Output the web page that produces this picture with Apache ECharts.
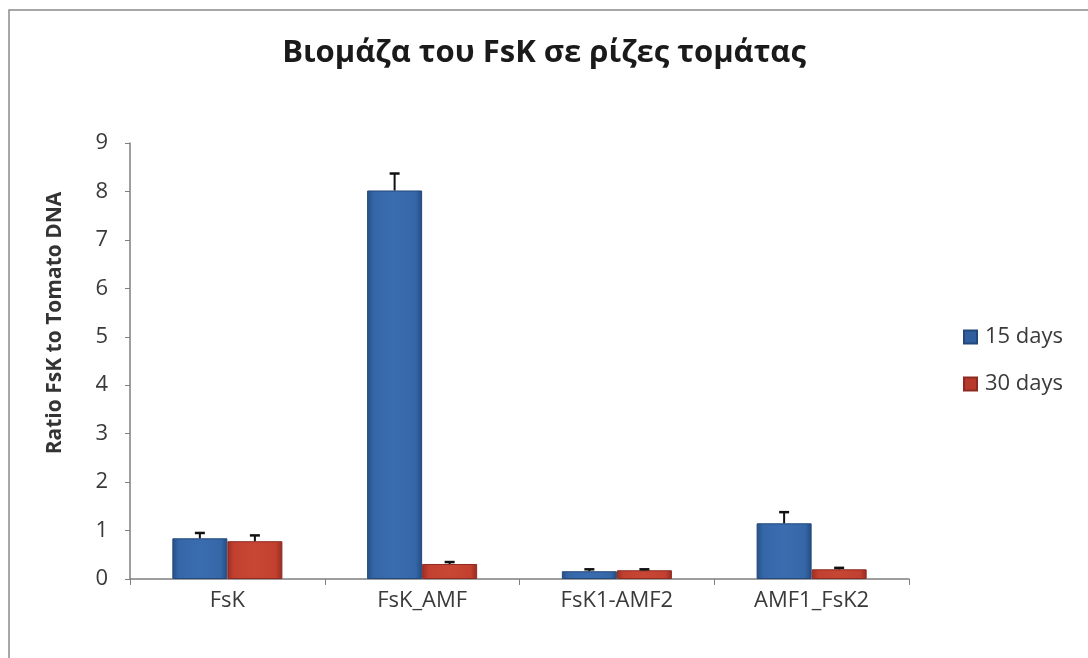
<!DOCTYPE html>
<html>
<head>
<meta charset="utf-8">
<script src="https://cdn.jsdelivr.net/npm/echarts@6/dist/echarts.min.js"></script>
<style>
html,body{margin:0;padding:0;background:#fff;}
#c{width:1088px;height:658px;}
</style>
</head>
<body>
<div id="c"></div>
<script>
const titleText = 'Βιομάζα του FsK σε ρίζες τομάτας';
const yAxisName = 'Ratio FsK to Tomato DNA';
const categories = ['FsK', 'FsK_AMF', 'FsK1-AMF2', 'AMF1_FsK2'];
const seriesNames = ['15 days', '30 days'];
const days15 = [0.84, 8.02, 0.16, 1.15];
const days30 = [0.78, 0.31, 0.18, 0.20];
const err15 = [0.11, 0.35, 0.04, 0.23];
const err30 = [0.12, 0.04, 0.02, 0.03];

const blueGrad = new echarts.graphic.LinearGradient(0,0,1,0,[
  {offset:0,color:'#264f86'},{offset:0.12,color:'#3567a8'},{offset:0.5,color:'#3a6cb0'},{offset:0.88,color:'#3567a8'},{offset:1,color:'#244b80'}]);
const redGrad = new echarts.graphic.LinearGradient(0,0,1,0,[
  {offset:0,color:'#9c2e24'},{offset:0.12,color:'#c2402f'},{offset:0.5,color:'#c84634'},{offset:0.88,color:'#c2402f'},{offset:1,color:'#962b22'}]);

const catGap = 0.435;
function errSeries(name, vals, errs, side){
  return {
    type:'custom', name: name + ' err', silent:true, z:5,
    data: vals.map((v,i)=>[i, v, v+errs[i]]),
    renderItem: function(params, api){
      const band = api.size([1,0])[0];
      const bw = band*(1-catGap)/2;
      const base = api.coord([api.value(0), api.value(1)]);
      const top = api.coord([api.value(0), api.value(2)]);
      const x = base[0] + side*bw/2;
      const cap = 5;
      return {type:'group', children:[
        {type:'line', shape:{x1:x,y1:base[1],x2:x,y2:top[1]}, style:{stroke:'#111',lineWidth:2}},
        {type:'line', shape:{x1:x-cap,y1:top[1],x2:x+cap,y2:top[1]}, style:{stroke:'#111',lineWidth:2.5}}
      ]};
    }
  };
}

const chart = echarts.init(document.getElementById('c'), null, {renderer:'canvas'});
chart.setOption({
  animation:false,
  backgroundColor:'#fff',
  title:{text:titleText, left:'center', top:33,
    textStyle:{fontFamily:'Open Sans', fontWeight:'bold', fontSize:31, color:'#1a1a1a'}},
  legend:{orient:'vertical', left:963, top:326, padding:0, itemGap:25, itemWidth:13, itemHeight:13, icon:'rect',
    data:[{name:seriesNames[0], itemStyle:{color:'#2f5f9e'}},{name:seriesNames[1], itemStyle:{color:'#b83a2c'}}],
    textStyle:{fontFamily:'Open Sans', fontSize:22, color:'#3a3a3a', padding:[0,0,0,3]}},
  grid:{left:130, right:179, top:143, bottom:79},
  xAxis:{type:'category', data:categories,
    axisLine:{lineStyle:{color:'#7f7f7f', width:1.5}},
    axisTick:{show:true, length:6, lineStyle:{color:'#7f7f7f'}},
    axisLabel:{fontFamily:'Open Sans', fontSize:22, color:'#3a3a3a', margin:11}},
  yAxis:{type:'value', min:0, max:9, interval:1, name:yAxisName, nameLocation:'middle', nameGap:64,
    nameTextStyle:{fontFamily:'Open Sans', fontWeight:'bold', fontSize:21, color:'#333', padding:[0,0,0,76]},
    axisLine:{show:true, lineStyle:{color:'#7f7f7f', width:1.5}},
    axisTick:{show:true, length:5, lineStyle:{color:'#7f7f7f'}},
    splitLine:{show:false},
    axisLabel:{fontFamily:'Open Sans', fontSize:22, color:'#3a3a3a', margin:22}},
  series:[
    {type:'bar', name:seriesNames[0], data:days15, barGap:'0%', barCategoryGap:(catGap*100)+'%',
      itemStyle:{color:blueGrad, borderColor:'#23497c', borderWidth:1}},
    {type:'bar', name:seriesNames[1], data:days30,
      itemStyle:{color:redGrad, borderColor:'#8e2a21', borderWidth:1}},
    errSeries(seriesNames[0], days15, err15, -1),
    errSeries(seriesNames[1], days30, err30, 1)
  ],
  graphic:[
    {type:'polyline', shape:{points:[[9,658],[9,10],[1088,10]]}, style:{stroke:'#8a8a8a', lineWidth:1.5, fill:null}, silent:true}
  ]
});
</script>
</body>
</html>
